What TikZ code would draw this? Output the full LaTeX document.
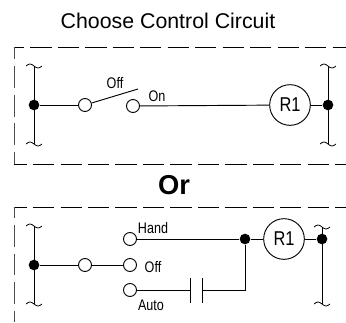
\documentclass[tikz,border=0pt]{standalone}
\usepackage{fontspec}
\setmainfont{Liberation Sans}
\newfontfamily\narrowfont[FakeStretch=0.82]{Liberation Sans}
\usepackage{tikz}

\tikzset{
  frameh/.style={line width=0.7pt,dash pattern=on 15.9pt off 4.7pt},
  framev/.style={line width=0.7pt,color=black!70,dash pattern=on 16.2pt off 5.2pt},
  wire/.style={line width=0.7pt},
  term/.style={circle,draw,line width=0.7pt,fill=white,inner sep=0pt,minimum size=9.75pt},
  dot/.style={circle,fill=black,inner sep=0pt,minimum size=8pt},
  coil/.style={circle,draw,line width=0.7pt,fill=white,inner sep=0pt,minimum size=30.5pt,font=\narrowfont\fontsize{15}{15}\selectfont},
  lbl/.style={inner sep=0pt,font=\narrowfont\fontsize{11.5}{11.5}\selectfont}
}

\begin{document}
\begin{tikzpicture}[line cap=butt,line join=miter,x=0.75pt,y=-0.75pt]
  \useasboundingbox (0,0) rectangle (346,322);

  \node[inner sep=0pt,font=\fontsize{16}{16}\selectfont] (title) at (168,21) {Choose Control Circuit};
  \node[inner sep=0pt,font=\bfseries\fontsize{20.5}{20.5}\selectfont] (or) at (174,185) {Or};

  % dashed frames
  \draw[frameh,dash phase=8pt] (13.6,47.5) -- (346,47.5);
  \draw[framev,dash phase=7pt] (14,47.2) -- (14,164);
  \draw[frameh,dash phase=6pt] (13.6,164) -- (346,164);
  \draw[frameh,dash phase=6pt] (13.6,207.5) -- (346,207.5);
  \draw[framev,dash phase=8pt] (14,207.2) -- (14,322);

  % upper circuit
  \coordinate (ua) at (34,66);
  \coordinate (ub) at (34,144);
  \coordinate (uc) at (328,66);
  \coordinate (ud) at (328,144);
  \coordinate (arm) at (138,89);
  \node[dot] (ul) at (34,105) {};
  \node[dot] (ur) at (328,105) {};
  \node[term] (us) at (85,105) {};
  \node[term] (ut) at (133,106) {};
  \node[coil] (ucoil) at (290,105) {R1};
  \node[lbl] (loff) at (115,83) {Off};
  \node[lbl] (lon) at (157,96) {On};
  \draw[wire] (ua) -- (ub);
  \draw[wire] (uc) -- (ud);
  \draw[wire] (ul) -- (us);
  \draw[wire] (us) -- (arm);
  \draw[wire] (ut) -- (ucoil);
  \draw[wire] (ucoil) -- (ur);

  % lower circuit
  \coordinate (la) at (34,226);
  \coordinate (lb) at (34,304);
  \coordinate (lc) at (322,227);
  \coordinate (ld) at (322,304);
  \coordinate (pa) at (190,290);
  \coordinate (pb) at (202,290);
  \node[dot] (ll) at (34,265) {};
  \node[dot] (lr) at (322,239) {};
  \node[dot] (lj) at (245,239) {};
  \node[term] (ls) at (85,265) {};
  \node[term] (lh) at (130,239) {};
  \node[term] (lo) at (130,265) {};
  \node[term] (lu) at (130,290) {};
  \node[coil] (lcoil) at (284,239) {R1};
  \node[lbl] (lhand) at (153,228) {Hand};
  \node[lbl] (loff2) at (153,267) {Off};
  \node[lbl] (lauto) at (151,305) {Auto};
  \draw[wire] (la) -- (lb);
  \draw[wire] (lc) -- (ld);
  \draw[wire] (ll) -- (ls);
  \draw[wire] (ls) -- (lo);
  \draw[wire] (lh) -- (lj);
  \draw[wire] (lj) -- (lcoil);
  \draw[wire] (lcoil) -- (lr);
  \draw[wire] (lu) -- (pa);
  \draw[wire] (lj) |- (pb);
  \draw[wire] (190,278) -- (190,303);
  \draw[wire] (202,278) -- (202,303);

  % broken ends of the rails
  \foreach \e in {ua,ub,uc,ud,la,lb,lc,ld}{
    \draw[line width=0.6pt] (\e) ++(-8,0) sin ++(4,-2) cos ++(4,2) sin ++(4,2) cos ++(4,-2);
  }
\end{tikzpicture}
\end{document}
